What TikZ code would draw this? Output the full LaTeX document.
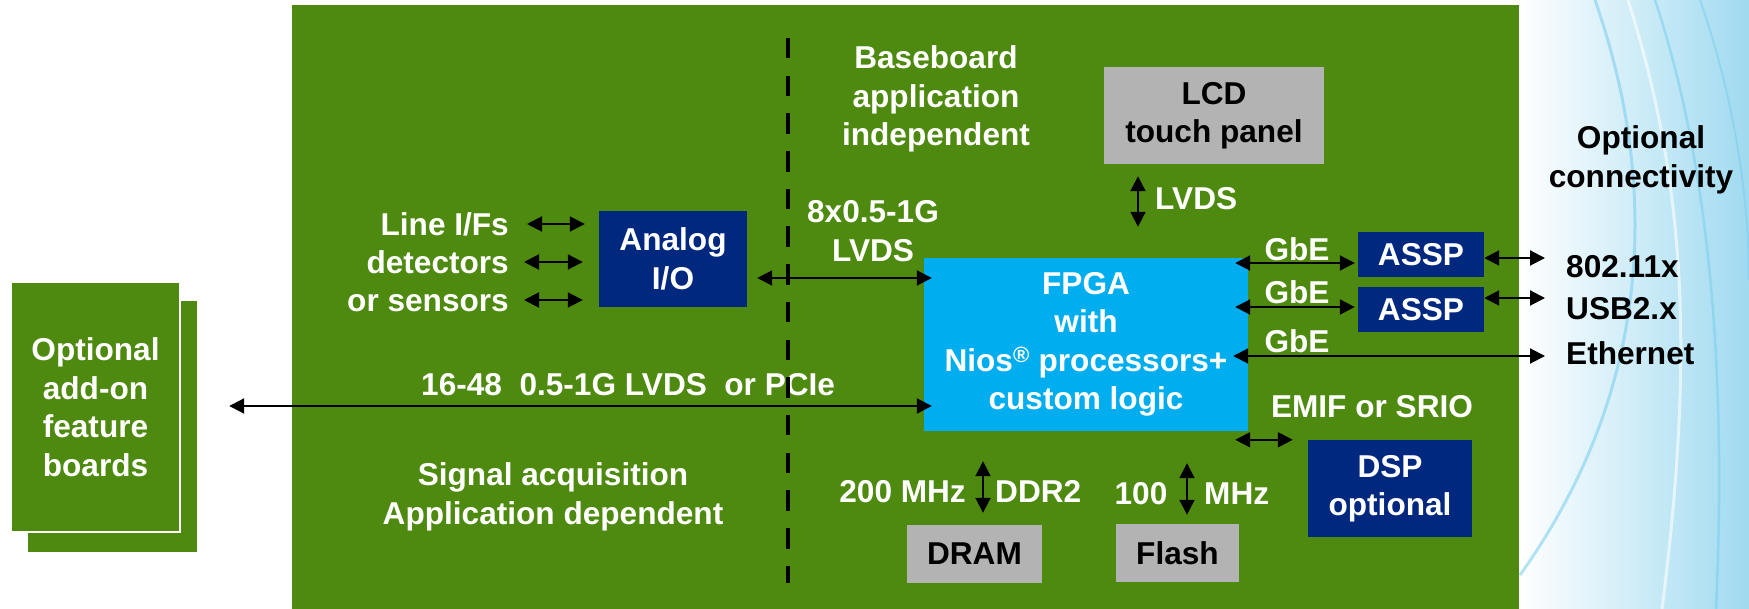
\documentclass[tikz,border=0pt]{standalone}
\usepackage{fontspec}
\setmainfont{Liberation Sans}
\usetikzlibrary{arrows.meta,calc}
\definecolor{boardgreen}{RGB}{79,138,16}
\definecolor{navybox}{RGB}{0,40,127}
\definecolor{fpgablue}{RGB}{0,174,239}
\definecolor{chipgray}{RGB}{179,179,179}
\definecolor{skyblue}{RGB}{160,218,240}
\definecolor{curveblue}{RGB}{120,205,238}
\begin{document}
\begin{tikzpicture}[x=1pt,y=-1pt,
  txt/.style={font=\bfseries\fontsize{31.6}{38.5}\selectfont, inner sep=0pt, align=center},
  wtxt/.style={txt,text=white},
  btxt/.style={txt,text=black},
  lbl/.style={text height=22pt, text depth=0pt},
  box/.style 2 args={minimum width=#1pt, minimum height=#2pt},
  navy/.style={wtxt, fill=navybox},
  chip/.style={btxt, fill=chipgray},
  fpgabox/.style={wtxt, fill=fpgablue},
  boardbox/.style={wtxt, fill=boardgreen},
  dbl/.style={{Triangle[length=15pt,width=15pt]}-{Triangle[length=15pt,width=15pt]}, line width=2pt, black},
  dashline/.style={line width=4pt, black, dash pattern=on 20.5pt off 17.2pt}
]
\useasboundingbox (0,0) rectangle (1749,609);
\fill[white] (0,0) rectangle (1749,609);
% right background
\shade[left color=white, right color=skyblue] (1519,0) rectangle (1749,609);
\draw[curveblue, line width=3pt, opacity=0.55] (1595,0) .. controls (1665,200) and (1645,400) .. (1520,575);
\draw[white, line width=3pt, opacity=0.6] (1628,0) .. controls (1685,180) and (1695,350) .. (1662,609);
\draw[curveblue, line width=2.5pt, opacity=0.55] (1655,0) .. controls (1705,150) and (1728,350) .. (1716,609);
\draw[curveblue, line width=2pt, opacity=0.5] (1700,0) .. controls (1735,100) and (1749,200) .. (1749,280);
% main board
\fill[boardgreen] (292,5) rectangle (1519,609);

% add-on boards
\node[boardbox, box={169}{250}] (boardsback) at (112.5,426.5) {};
\node[boardbox, box={169}{250}, draw=white, line width=1.5pt] (boards) at (95.5,407) {Optional\\add-on\\feature\\boards};

% blocks
\node[navy, box={148}{96}] (analog) at (673,259) {Analog\\I/O};
\node[fpgabox, box={324}{173}] (fpga) at (1086,344.5) {FPGA\\with\\Nios\textsuperscript{\textregistered} processors+\\custom logic};
\node[chip, box={220}{97}] (lcd) at (1214,115.5) {LCD\\touch panel};
\node[navy, box={126}{45}] (assp1) at (1421,254.5) {ASSP};
\node[navy, box={126}{45}] (assp2) at (1421,309.5) {ASSP};
\node[navy, box={164}{97}] (dsp) at (1390,488.5) {DSP\\optional};
\node[chip, box={135}{58}] (dram) at (974.5,554) {DRAM};
\node[chip, box={123}{58}] (flash) at (1177.5,553) {Flash};

% labels
\node[wtxt, lbl, anchor=east] (lif) at (509,225) {Line I/Fs};
\node[wtxt, lbl, anchor=east] (ldet) at (509,263) {detectors};
\node[wtxt, lbl, anchor=east] (lsen) at (509,301) {or sensors};
\node[wtxt] (llvds8) at (873,231) {8x0.5-1G\\LVDS};
\node[wtxt] (lbase) at (936,99) {Baseboard\\application\\independent};
\node[wtxt, lbl, anchor=west] (llcd) at (1155,199) {LVDS};
\node[wtxt, lbl] (lgbe1) at (1297,250) {GbE};
\node[wtxt, lbl] (lgbe2) at (1297,293) {GbE};
\node[wtxt, lbl] (lgbe3) at (1297,342) {GbE};
\node[wtxt, lbl] (lemif) at (1372,407) {EMIF or SRIO};
\node[wtxt, lbl, anchor=east] (l200) at (966,491) {200 MHz};
\node[wtxt, lbl, anchor=west] (lddr) at (995,491) {DDR2};
\node[wtxt, lbl] (l100) at (1141,493) {100};
\node[wtxt, lbl, anchor=west] (lmhz) at (1204,493) {MHz};
\node[wtxt, lbl, anchor=west] (lpcie) at (421,385) {16-48\ \ 0.5-1G LVDS\ \ or PCIe};
\node[wtxt] (lsig) at (553,497) {Signal acquisition\\Application dependent};
\node[btxt] (lopt) at (1641,160) {Optional\\connectivity};
\node[btxt, lbl, anchor=west] (l80211) at (1566,267) {802.11x};
\node[btxt, lbl, anchor=west] (lusb) at (1566,309) {USB2.x};
\node[btxt, lbl, anchor=west] (leth) at (1566,354) {Ethernet};

% connectors
\draw[dbl] ($(lif.east)+(18,-1)$) -- ($(analog.west |- lif.east)+(-14,-1)$);
\draw[dbl] ($(ldet.east)+(15,-1)$) -- ($(analog.west |- ldet.east)+(-16,-1)$);
\draw[dbl] ($(lsen.east)+(15,-1)$) -- ($(analog.west |- lsen.east)+(-16,-1)$);
\draw[dbl] ($(analog.east)+(10,19)$) -- ($(analog.east -| fpga.west)+(8,19)$);
\draw[dbl] ($(boardsback.east)+(32,-20.5)$) -- ($(boardsback.east -| fpga.west)+(8,-20.5)$);
\draw[dbl] ($(lcd.south)+(-76,12)$) -- ($(lcd.south |- fpga.north)+(-76,-31)$);
\draw[dbl] ($(fpga.east |- assp1.west)+(-13,8.5)$) -- ($(assp1.west)+(-3,8.5)$);
\draw[dbl] ($(fpga.east |- assp2.west)+(-13,-2.5)$) -- ($(assp2.west)+(-3,-2.5)$);
\draw[dbl] ($(fpga.east)+(-15,11.5)$) -- ($(leth.west -| l80211.west)+(-21,2)$);
\draw[dbl] ($(assp1.east)+(0,3.5)$) -- ($(l80211.west |- assp1.east)+(-21,3.5)$);
\draw[dbl] ($(assp2.east)+(0,-11.5)$) -- ($(l80211.west |- assp2.east)+(-21,-11.5)$);
\draw[dbl] ($(dram.north |- fpga.south)+(8.5,30)$) -- ($(dram.north)+(8.5,-12)$);
\draw[dbl] ($(flash.north |- fpga.south)+(9.5,32)$) -- ($(flash.north)+(9.5,-9)$);
\draw[dbl] ($(fpga.east |- dsp.north)+(-13,0)$) -- ($(dsp.north west)+(-15,0)$);

% divider
\coordinate (dtop) at (788,38);
\coordinate (dbot) at (788,583);
\draw[dashline] (dtop) -- (dbot);
\end{tikzpicture}
\end{document}
